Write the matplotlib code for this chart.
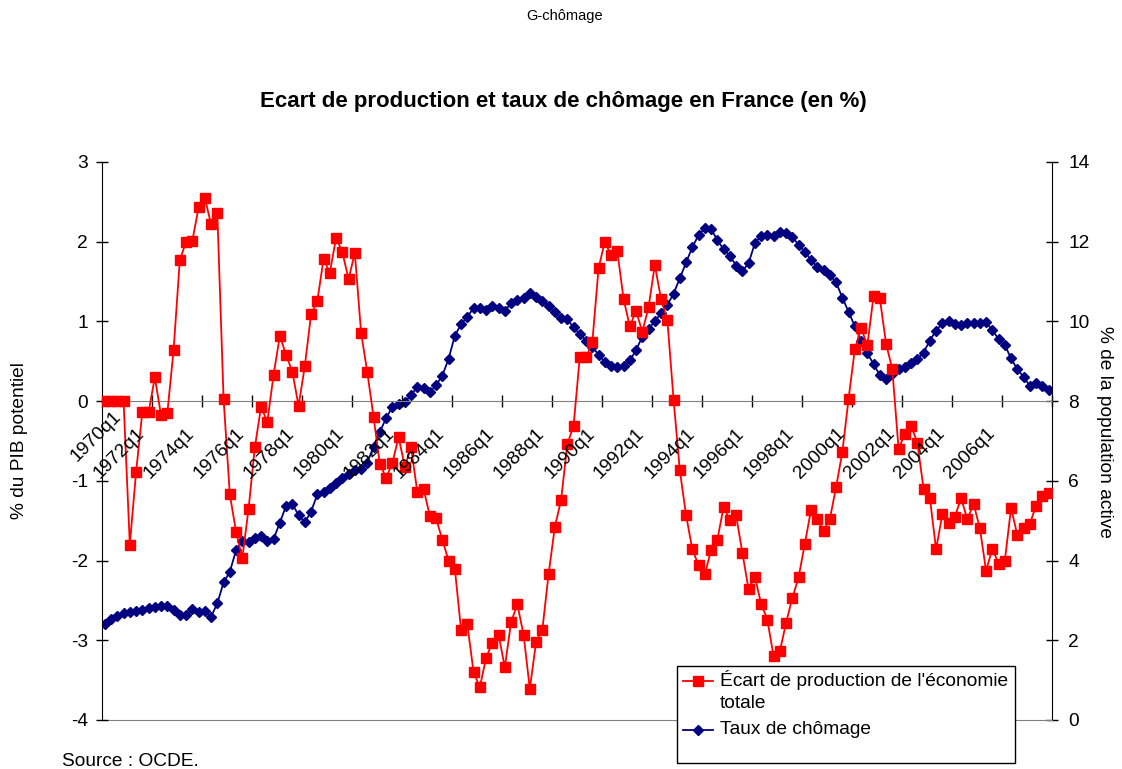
import numpy as np
import matplotlib
matplotlib.use("Agg")
import matplotlib.pyplot as plt
from matplotlib.lines import Line2D
from matplotlib.patches import Rectangle

plt.rcParams['font.family'] = ['Liberation Sans', 'DejaVu Sans']

quarters = [f"{y}q{q}" for y in range(1970, 2008) for q in range(1, 5)]

ecart = [0.00, 0.00, 0.00, 0.00, -1.80, -0.89, -0.14, -0.14, 0.30, -0.18,
         -0.15, 0.64, 1.77, 2.00, 2.01, 2.43, 2.55, 2.22, 2.36, 0.03,
         -1.17, -1.64, -1.97, -1.35, -0.58, -0.07, -0.26, 0.33, 0.82, 0.58,
         0.37, -0.06, 0.44, 1.09, 1.26, 1.78, 1.61, 2.05, 1.87, 1.53,
         1.86, 0.86, 0.36, -0.20, -0.79, -0.96, -0.78, -0.45, -0.82, -0.58,
         -1.14, -1.10, -1.44, -1.47, -1.74, -2.00, -2.10, -2.87, -2.80, -3.40,
         -3.59, -3.22, -3.03, -2.93, -3.34, -2.77, -2.55, -2.93, -3.61, -3.02,
         -2.87, -2.17, -1.58, -1.24, -0.54, -0.31, 0.56, 0.55, 0.74, 1.67,
         2.00, 1.83, 1.88, 1.28, 0.94, 1.13, 0.87, 1.18, 1.71, 1.28,
         1.02, 0.02, -0.87, -1.43, -1.86, -2.06, -2.17, -1.87, -1.74, -1.33,
         -1.49, -1.43, -1.90, -2.36, -2.20, -2.54, -2.74, -3.20, -3.14, -2.78,
         -2.47, -2.21, -1.79, -1.36, -1.48, -1.63, -1.48, -1.08, -0.64, 0.03,
         0.65, 0.92, 0.70, 1.32, 1.29, 0.72, 0.40, -0.60, -0.41, -0.31,
         -0.52, -1.10, -1.21, -1.86, -1.42, -1.53, -1.45, -1.22, -1.48, -1.29,
         -1.59, -2.13, -1.85, -2.04, -2.00, -1.34, -1.68, -1.59, -1.54, -1.31,
         -1.19, -1.15]

chomage = [2.40, 2.53, 2.61, 2.68, 2.72, 2.73, 2.76, 2.82, 2.84, 2.86,
           2.86, 2.76, 2.63, 2.63, 2.78, 2.72, 2.73, 2.59, 2.93, 3.45,
           3.72, 4.26, 4.49, 4.46, 4.57, 4.62, 4.50, 4.54, 4.95, 5.37,
           5.42, 5.14, 4.96, 5.23, 5.66, 5.71, 5.83, 5.95, 6.06, 6.17,
           6.27, 6.29, 6.46, 6.86, 7.23, 7.57, 7.86, 7.92, 7.97, 8.16,
           8.35, 8.32, 8.22, 8.40, 8.64, 9.06, 9.64, 9.93, 10.12, 10.33,
           10.33, 10.29, 10.39, 10.33, 10.27, 10.45, 10.54, 10.60, 10.72, 10.62,
           10.51, 10.39, 10.23, 10.08, 10.05, 9.85, 9.68, 9.52, 9.37, 9.16,
           8.99, 8.89, 8.86, 8.89, 9.02, 9.28, 9.62, 9.81, 10.01, 10.20,
           10.41, 10.70, 11.08, 11.48, 11.86, 12.17, 12.34, 12.32, 12.04, 11.81,
           11.65, 11.40, 11.26, 11.46, 11.96, 12.15, 12.17, 12.15, 12.25, 12.21,
           12.11, 11.93, 11.75, 11.54, 11.37, 11.29, 11.16, 10.98, 10.60, 10.24,
           9.88, 9.52, 9.20, 8.93, 8.65, 8.56, 8.67, 8.80, 8.85, 8.95,
           9.06, 9.22, 9.52, 9.77, 9.95, 10.02, 9.93, 9.91, 9.97, 9.97,
           9.97, 9.98, 9.78, 9.56, 9.41, 9.07, 8.80, 8.61, 8.38, 8.46,
           8.38, 8.28]

left_ticks = [3, 2, 1, 0, -1, -2, -3, -4]
right_ticks = [0, 2, 4, 6, 8, 10, 12, 14]

W, H = 1122, 769
def fx(x):
    return x / W
def fy(y):
    return 1 - y / H

RED = '#FF0000'
NAVY = '#000080'
FS = 13.8

fig = plt.figure(figsize=(W / 100, H / 100), dpi=100)
ax = fig.add_axes([fx(101.7), fy(720), fx(1051.7) - fx(101.7), fy(162) - fy(720)])
ax2 = ax.twinx()

x = np.arange(len(quarters))
ax.plot(x, ecart, color=RED, lw=1.3, marker='s', ms=6.5, mec=RED, mfc=RED, zorder=3)
ax2.plot(x, chomage, color=NAVY, lw=1.3, marker='D', ms=4.6, mec=NAVY, mfc=NAVY)
ax.set_zorder(ax2.get_zorder() + 1)
ax.patch.set_visible(False)

ax.set_xlim(-0.5, len(quarters) - 0.5)
ax.set_ylim(-4, 3)
ax2.set_ylim(0, 14)

# axe des catégories à y = 0
ax.spines['bottom'].set_position(('data', 0))
ax.spines['bottom'].set_color('#808080')
ax.spines['top'].set_visible(False)
ax.spines['right'].set_visible(False)
ax.spines['left'].set_color('black')
ax2.spines['left'].set_visible(False)
ax2.spines['top'].set_visible(False)
ax2.spines['bottom'].set_color('#808080')
ax2.spines['right'].set_color('black')

ax.set_xticks(np.arange(-0.5, len(quarters), 8))
ax.set_xticklabels([])
ax.tick_params(axis='x', direction='inout', length=9, width=1, color='black')
ax.set_yticks(left_ticks)
ax.set_yticklabels([str(v) for v in left_ticks], fontsize=FS)
ax.tick_params(axis='y', direction='inout', length=8, width=1, pad=6)
ax2.set_yticks(right_ticks)
ax2.set_yticklabels([str(v) for v in right_ticks], fontsize=FS)
ax2.tick_params(axis='y', direction='inout', length=8, width=1, pad=8)

for k in range(0, len(quarters), 8):
    off = (20, -7) if k == 0 else (-7, -24)
    ax.annotate(quarters[k], xy=(k, 0), xytext=off, textcoords='offset pixels',
                rotation=45, ha='right', va='top', fontsize=FS, clip_on=False)

fig.text(fx(20), fy(441), '% du PIB potentiel', rotation=90, ha='center', va='center', fontsize=FS)
fig.text(fx(1104), fy(432), '% de la population active', rotation=270, ha='center', va='center', fontsize=FS)

fig.text(fx(563), fy(101), 'Ecart de production et taux de chômage en France (en %)',
         ha='center', va='center', fontsize=16, fontweight='bold')
fig.text(fx(565), fy(16), 'G-chômage', ha='center', va='center', fontsize=10.5)
fig.text(fx(62), fy(762), 'Source : OCDE.', ha='left', va='center', fontsize=FS)

# légende
fig.add_artist(Rectangle((fx(677), fy(763)), fx(1015) - fx(677), fy(666) - fy(763),
                         transform=fig.transFigure, facecolor='white', edgecolor='black',
                         lw=1, zorder=5))
fig.add_artist(Line2D([fx(683), fx(713)], [fy(680.5)] * 2, transform=fig.transFigure,
                      color=RED, lw=1.3, zorder=6))
fig.add_artist(Line2D([fx(698)], [fy(680.5)], transform=fig.transFigure, color=RED,
                      marker='s', ms=6.5, zorder=6))
fig.add_artist(Line2D([fx(683), fx(713)], [fy(730)] * 2, transform=fig.transFigure,
                      color=NAVY, lw=1.3, zorder=6))
fig.add_artist(Line2D([fx(698)], [fy(730)], transform=fig.transFigure, color=NAVY,
                      marker='D', ms=4.6, zorder=6))
fig.text(fx(720), fy(680.5), "Écart de production de l'économie", ha='left', va='center',
         fontsize=FS, zorder=7)
fig.text(fx(720), fy(703.5), "totale", ha='left', va='center', fontsize=FS, zorder=7)
fig.text(fx(720), fy(729.5), "Taux de chômage", ha='left', va='center', fontsize=FS, zorder=7)

fig.savefig('out.png', dpi=100)
